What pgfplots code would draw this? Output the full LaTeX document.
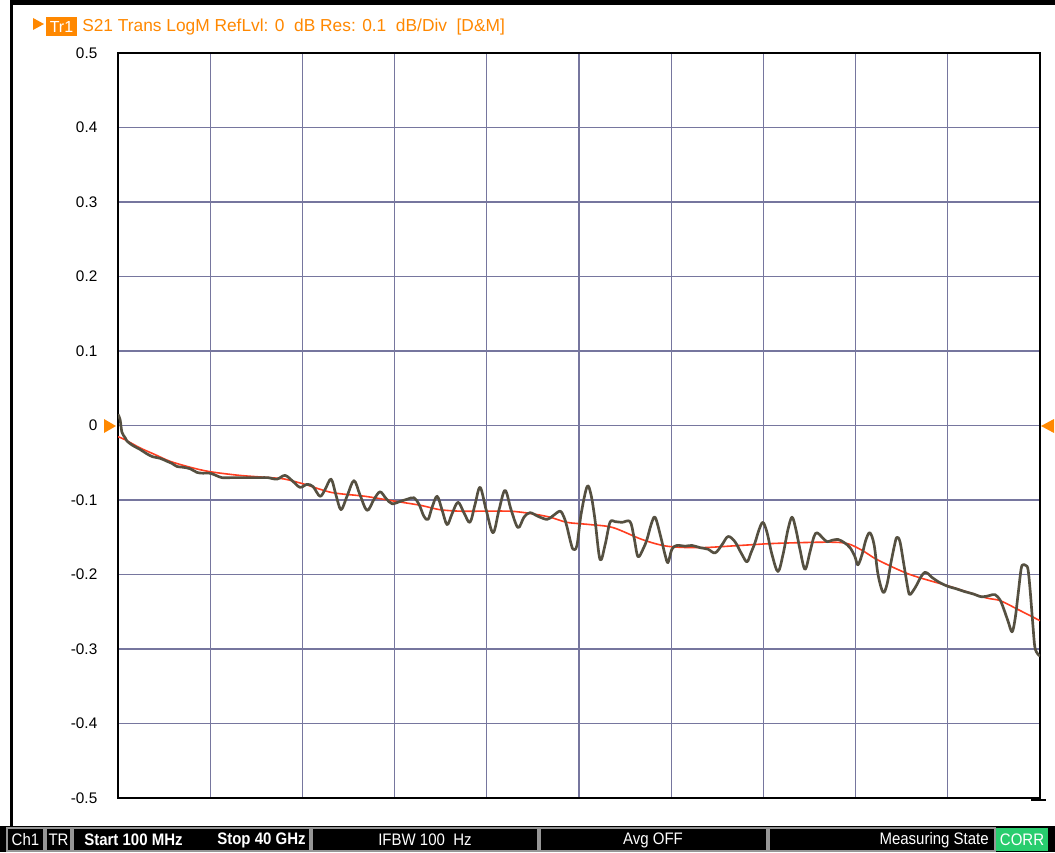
\documentclass[border=0pt]{standalone}
\usepackage{pgfplots}
\pgfplotsset{compat=1.18}
\usepackage{fontspec}
\setmainfont{Liberation Sans}
\newfontfamily\narrowfont[FakeStretch=0.9]{Liberation Sans}
\definecolor{trorange}{RGB}{255,136,0}
\definecolor{gridc}{RGB}{118,118,158}
\definecolor{meas}{RGB}{85,80,65}
\definecolor{redtr}{RGB}{255,62,32}
\definecolor{corr}{RGB}{40,205,110}
\definecolor{boxline}{RGB}{150,150,150}
\begin{document}
\begin{tikzpicture}
\path[use as bounding box, fill=white] (0pt,0pt) rectangle (791.25pt,-639pt);
\begin{axis}[
  at={(88.5pt,-598.5pt)}, anchor=south west,
  width=691.5pt, height=558.75pt, scale only axis,
  xmin=0.1, xmax=40, ymin=-0.5, ymax=0.5,
  xtick={0.1,4.09,8.08,12.07,16.06,20.05,24.04,28.03,32.02,36.01,40},
  xticklabels={},
  ytick={-0.5,-0.4,-0.3,-0.2,-0.1,0,0.1,0.2,0.3,0.4,0.5},
  yticklabels={-0.5,-0.4,-0.3,-0.2,-0.1,0,0.1,0.2,0.3,0.4,0.5},
  major tick length=0pt,
  grid=major,
  grid style={color=gridc, line width=0.8pt},
  axis line style={black, line width=1.2pt},
  yticklabel style={font=\fontsize{11.5}{13}\selectfont, anchor=east, xshift=-12pt},
  clip=true,
]
% smoothed trace (red)
\addplot[redtr, line width=1.2pt, smooth, tension=0.5] coordinates {
(0.10,-0.015) (0.40,-0.019) (1.05,-0.030) (1.70,-0.039) (2.35,-0.048)
(3.22,-0.056) (4.08,-0.062) (5.38,-0.067) (6.68,-0.070) (7.33,-0.072)
(8.19,-0.079) (9.36,-0.090) (10.79,-0.095) (11.96,-0.101) (13.17,-0.107)
(14.03,-0.113) (14.90,-0.115) (15.77,-0.115) (17.06,-0.115) (17.93,-0.118)
(18.79,-0.123) (19.53,-0.130) (20.53,-0.133) (21.52,-0.137) (22.78,-0.153)
(23.86,-0.162) (25.29,-0.164) (27.02,-0.161) (28.75,-0.158) (31.34,-0.157)
(32.21,-0.166) (32.95,-0.180) (34.37,-0.200) (36.10,-0.216) (37.62,-0.231)
(38.27,-0.235) (39.05,-0.247) (40.00,-0.262)
};
% measured trace (dark)
\addplot[meas, line width=2pt, line join=round, smooth, tension=0.55] coordinates {
(0.10,0.015) (0.19,0.008) (0.27,-0.009) (0.40,-0.016) (0.49,-0.021)
(0.75,-0.027) (1.05,-0.032) (1.35,-0.038) (1.61,-0.042) (1.92,-0.044)
(2.22,-0.048) (2.44,-0.051) (2.65,-0.055) (2.91,-0.056) (3.22,-0.058)
(3.52,-0.063) (3.78,-0.064) (4.08,-0.064) (4.34,-0.067) (4.60,-0.070)
(4.95,-0.070) (5.38,-0.070) (5.81,-0.070) (6.25,-0.070) (6.59,-0.070)
(6.98,-0.072) (7.33,-0.067) (7.67,-0.075) (7.98,-0.083) (8.28,-0.079)
(8.54,-0.082) (8.84,-0.095) (9.06,-0.086) (9.32,-0.072) (9.53,-0.093)
(9.75,-0.113) (10.01,-0.095) (10.31,-0.074) (10.57,-0.093) (10.88,-0.114)
(11.18,-0.099) (11.44,-0.089) (11.70,-0.098) (11.96,-0.105) (12.30,-0.102)
(12.61,-0.099) (12.91,-0.097) (13.13,-0.106) (13.34,-0.122) (13.52,-0.126)
(13.69,-0.110) (13.91,-0.095) (14.12,-0.113) (14.34,-0.133) (14.55,-0.119)
(14.81,-0.103) (15.07,-0.117) (15.33,-0.130) (15.55,-0.106) (15.77,-0.083)
(16.03,-0.113) (16.33,-0.144) (16.59,-0.113) (16.85,-0.087) (17.11,-0.113)
(17.41,-0.137) (17.67,-0.123) (17.93,-0.117) (18.28,-0.122) (18.67,-0.126)
(18.93,-0.121) (19.23,-0.115) (19.40,-0.123) (19.53,-0.136) (19.66,-0.153)
(19.79,-0.166) (19.96,-0.161) (20.14,-0.119) (20.40,-0.082) (20.57,-0.093)
(20.74,-0.126) (20.96,-0.180) (21.18,-0.160) (21.39,-0.130) (21.61,-0.129)
(21.91,-0.130) (22.26,-0.129) (22.43,-0.150) (22.60,-0.176) (22.82,-0.166)
(22.99,-0.153) (23.17,-0.133) (23.34,-0.123) (23.56,-0.146) (23.77,-0.173)
(23.90,-0.184) (24.07,-0.166) (24.29,-0.161) (24.64,-0.162) (24.94,-0.161)
(25.29,-0.164) (25.63,-0.166) (25.94,-0.171) (26.24,-0.160) (26.50,-0.149)
(26.80,-0.156) (27.10,-0.173) (27.32,-0.183) (27.49,-0.171) (27.67,-0.157)
(27.84,-0.140) (28.01,-0.130) (28.19,-0.144) (28.40,-0.173) (28.66,-0.196)
(28.88,-0.173) (29.09,-0.140) (29.27,-0.123) (29.44,-0.140) (29.61,-0.166)
(29.83,-0.193) (30.05,-0.169) (30.22,-0.149) (30.35,-0.144) (30.57,-0.150)
(30.78,-0.156) (31.00,-0.154) (31.26,-0.153) (31.52,-0.157) (31.78,-0.164)
(31.99,-0.176) (32.12,-0.187) (32.30,-0.173) (32.47,-0.153) (32.64,-0.144)
(32.82,-0.160) (32.99,-0.200) (33.21,-0.224) (33.38,-0.213) (33.55,-0.184)
(33.73,-0.157) (33.81,-0.150) (33.94,-0.156) (34.11,-0.187) (34.29,-0.220)
(34.37,-0.227) (34.55,-0.220) (34.68,-0.213) (34.85,-0.203) (35.02,-0.197)
(35.20,-0.200) (35.33,-0.204) (35.67,-0.211) (36.02,-0.216) (36.36,-0.219)
(36.75,-0.223) (37.10,-0.226) (37.49,-0.230) (37.84,-0.228) (38.05,-0.227)
(38.27,-0.234) (38.44,-0.247) (38.62,-0.263) (38.79,-0.277) (38.92,-0.260)
(39.05,-0.227) (39.18,-0.193) (39.26,-0.187) (39.39,-0.188) (39.48,-0.193)
(39.57,-0.220) (39.70,-0.271) (39.78,-0.298) (39.91,-0.307) (40.00,-0.309)
};
\end{axis}
\begin{scope}[x=0.75pt,y=-0.75pt]
  % frame of the screen
  \fill[black] (10,0) rectangle (1055,5);
  \fill[black] (10,0) rectangle (12.5,826);
  % header
  \fill[trorange] (33,18) -- (44,24) -- (33,30) -- cycle;
  \fill[trorange] (46,17) rectangle (77,36);
  \node[white, inner sep=0pt, font=\fontsize{12}{13}\selectfont] at (61.5,27) {Tr1};
  \node[trorange, anchor=west, inner sep=0pt, font=\fontsize{13}{14}\selectfont] at (82,27)
    {S21 Trans LogM RefLvl: 0\ \ dB Res: 0.1\ \ dB/Div\ \ [D\&M]};
  % reference level markers
  \fill[trorange] (104,419) -- (116,426) -- (104,433) -- cycle;
  \fill[trorange] (1054,419) -- (1041,426) -- (1054,433) -- cycle;
  \draw[black, line width=1pt] (1031,800) -- (1046,800);
  % status bar
  \fill[black] (0,826) rectangle (1055,852);
  \begin{scope}[boxline, line width=0.8pt]
    \draw (7,828) rectangle (44,851);
    \draw (46,828) rectangle (71,851);
    \draw (73,828) rectangle (310,851);
    \draw (312,828) rectangle (538,851);
    \draw (540,828) rectangle (767,851);
    \draw (769,828) rectangle (995,851);
  \end{scope}
  \fill[corr] (996,828) rectangle (1048,851);
  \begin{scope}[every node/.style={white, inner sep=0pt, font=\narrowfont\fontsize{12.5}{13}\selectfont}]
    \node at (25.5,840) {Ch1};
    \node at (58.5,840) {TR};
    \node[anchor=west] at (84,840) {\bfseries Start 100 MHz};
    \node[anchor=west] at (217,840) {\bfseries Stop 40 GHz};
    \node at (425,840) {IFBW 100\ \ Hz};
    \node at (653,840) {Avg OFF};
    \node[anchor=east] at (989,840) {Measuring State};
    \node at (1022,840) {CORR};
  \end{scope}
\end{scope}
\end{tikzpicture}
\end{document}
